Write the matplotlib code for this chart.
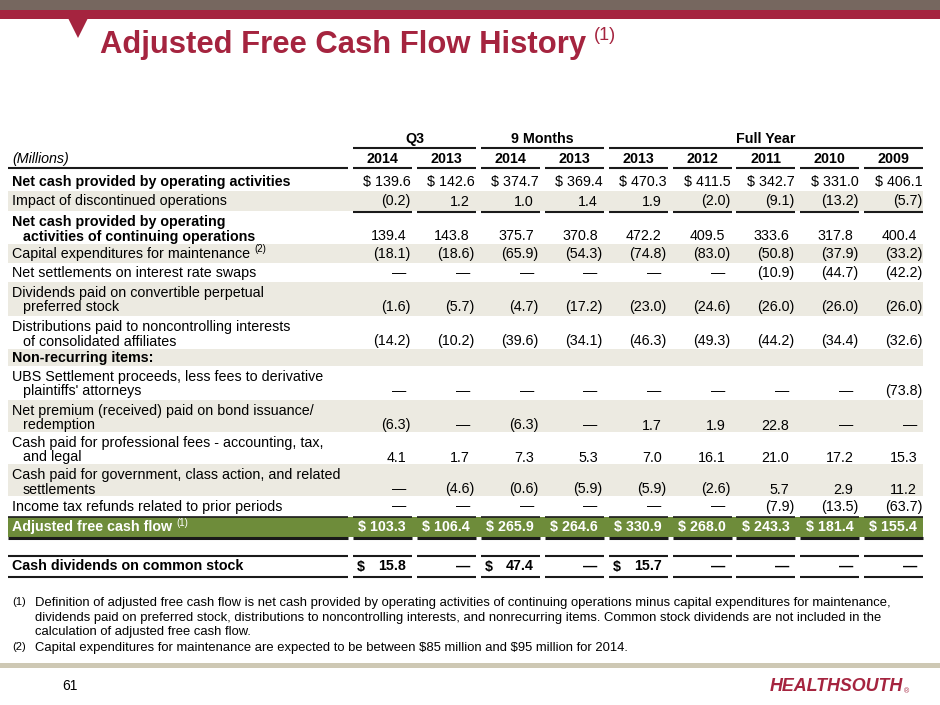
import matplotlib.pyplot as plt
from matplotlib import font_manager
from matplotlib.font_manager import FontProperties
from matplotlib.patches import Rectangle, Polygon

# ---- table data ----
group_labels = ['Q3', '9 Months', 'Full Year']
group_spans = [2, 2, 5]
years = ['2014', '2013', '2014', '2013', '2013', '2012', '2011', '2010', '2009']

D = '\u2014'
row_labels = [
    'Net cash provided by operating activities',
    'Impact of discontinued operations',
    'Net cash provided by operating\nactivities of continuing operations',
    'Capital expenditures for maintenance',
    'Net settlements on interest rate swaps',
    'Dividends paid on convertible perpetual\npreferred stock',
    'Distributions paid to noncontrolling interests\nof consolidated affiliates',
    'Non-recurring items:',
    "UBS Settlement proceeds, less fees to derivative\nplaintiffs' attorneys",
    'Net premium (received) paid on bond issuance/\nredemption',
    'Cash paid for professional fees - accounting, tax,\nand legal',
    'Cash paid for government, class action, and related\nsettlements',
    'Income tax refunds related to prior periods',
    'Adjusted free cash flow',
    'Cash dividends on common stock',
]
row_notes = ['', '', '', '(2)', '', '', '', '', '', '', '', '', '', '(1)', '']
row_values = [
    ['$ 139.6', '$ 142.6', '$ 374.7', '$ 369.4', '$ 470.3', '$ 411.5', '$ 342.7', '$ 331.0', '$ 406.1'],
    ['(0.2)', '1.2', '1.0', '1.4', '1.9', '(2.0)', '(9.1)', '(13.2)', '(5.7)'],
    ['139.4', '143.8', '375.7', '370.8', '472.2', '409.5', '333.6', '317.8', '400.4'],
    ['(18.1)', '(18.6)', '(65.9)', '(54.3)', '(74.8)', '(83.0)', '(50.8)', '(37.9)', '(33.2)'],
    [D, D, D, D, D, D, '(10.9)', '(44.7)', '(42.2)'],
    ['(1.6)', '(5.7)', '(4.7)', '(17.2)', '(23.0)', '(24.6)', '(26.0)', '(26.0)', '(26.0)'],
    ['(14.2)', '(10.2)', '(39.6)', '(34.1)', '(46.3)', '(49.3)', '(44.2)', '(34.4)', '(32.6)'],
    ['', '', '', '', '', '', '', '', ''],
    [D, D, D, D, D, D, D, D, '(73.8)'],
    ['(6.3)', D, '(6.3)', D, '1.7', '1.9', '22.8', D, D],
    ['4.1', '1.7', '7.3', '5.3', '7.0', '16.1', '21.0', '17.2', '15.3'],
    [D, '(4.6)', '(0.6)', '(5.9)', '(5.9)', '(2.6)', '5.7', '2.9', '11.2'],
    [D, D, D, D, D, D, '(7.9)', '(13.5)', '(63.7)'],
    ['$ 103.3', '$ 106.4', '$ 265.9', '$ 264.6', '$ 330.9', '$ 268.0', '$ 243.3', '$ 181.4', '$ 155.4'],
    ['$ 15.8', D, '$ 47.4', D, '$ 15.7', D, D, D, D],
]
footnotes = [
    ('(1)', ['Definition of adjusted free cash flow is net cash provided by operating activities of continuing operations minus capital expenditures for maintenance,',
             'dividends paid on preferred stock, distributions to noncontrolling interests, and nonrecurring items. Common stock dividends are not included in the',
             'calculation of adjusted free cash flow.']),
    ('(2)', ['Capital expenditures for maintenance are expected to be between $85 million and $95 million for 2014.']),
]
title = 'Adjusted Free Cash Flow History'
page_no = '61'
logo = 'HEALTHSOUTH'

# ---- layout / style ----
W, H = 940, 705
RED = '#A5243F'
TAUPE = '#76675F'
GREEN = '#6E8C3A'
SHADE = '#ECEAE1'
BEIGE = '#CEC8B4'
LINE = '#1a1a1a'

names = {f.name for f in font_manager.fontManager.ttflist}
BODY = 'Liberation Sans' if 'Liberation Sans' in names else 'DejaVu Sans'
FS = 10.3
FP = FontProperties(family=BODY)
FP_B = FontProperties(family=BODY, weight='bold')
FP_BI = FontProperties(family=BODY, weight='bold', style='italic')

row_tops = [172, 191, 211, 244, 263, 282, 316, 349, 366, 400, 432, 464, 496, 517, 556]
row_bots = [191, 211, 244, 263, 282, 316, 349, 366, 400, 432, 464, 496, 516, 537, 576]
shaded = {1, 3, 5, 7, 9, 11}
bold_rows = {0, 2, 7, 13, 14}
bold_vals = {13, 14}
col_left = [353 + 63.9 * i for i in range(9)]
col_w = 59
col_right = [c + col_w for c in col_left]
lab_left, lab_right = 8, 348

fig = plt.figure(figsize=(9.4, 7.05), dpi=100)
ax = fig.add_axes([0, 0, 1, 1])
ax.set_xlim(0, W)
ax.set_ylim(H, 0)
ax.axis('off')
renderer = fig.canvas.get_renderer()


def hline(x0, x1, y, lw=1.5, color=LINE):
    ax.plot([x0, x1], [y, y], color=color, lw=lw, solid_capstyle='butt')


def right_edge(t):
    return t.get_window_extent(renderer=renderer).x1


def fit_text(x, y, s, fp, width, size, **kw):
    # size the text so that it spans the same width as in the slide
    t = ax.text(x, y, s, fontproperties=fp, fontsize=size, parse_math=False, **kw)
    w = t.get_window_extent(renderer=renderer).width
    t.set_fontsize(size * width / w)
    return t


# header bands
ax.add_patch(Rectangle((0, 0), W, 10, color=TAUPE, lw=0))
ax.add_patch(Rectangle((0, 10), W, 8.5, color=RED, lw=0))
ax.add_patch(Polygon([[68, 18], [88, 18], [78, 38]], closed=True, color=RED, lw=0))
fit_text(100, 53, title, FP_B, 485, 23, color=RED, va='baseline')
ax.text(594, 40, '(1)', fontproperties=FP, fontsize=13, color=RED, va='baseline')

# group headers
start = 0
for lab, span in zip(group_labels, group_spans):
    x0, x1 = col_left[start], col_right[start + span - 1]
    ax.text((x0 + x1) / 2, 143, lab, fontsize=FS, fontweight='bold', family=BODY, ha='center', va='baseline')
    hline(x0, x1, 148)
    start += span

# year row
ax.text(12, 163, '(Millions)', fontsize=FS, style='italic', family=BODY, va='baseline')
hline(lab_left, lab_right, 168)
for i, yr in enumerate(years):
    ax.text((col_left[i] + col_right[i]) / 2, 163, yr, fontsize=FS, fontweight='bold', family=BODY,
            ha='center', va='baseline')
    hline(col_left[i], col_right[i], 168)

# row backgrounds
for r in range(len(row_labels)):
    if r in shaded:
        ax.add_patch(Rectangle((lab_left, row_tops[r]), col_right[-1] - lab_left, row_bots[r] - row_tops[r],
                               color=SHADE, lw=0))
ax.add_patch(Rectangle((lab_left, row_tops[13]), col_right[-1] - lab_left, row_bots[13] - row_tops[13],
                       color=GREEN, lw=0))

# rows
for r, (label, vals) in enumerate(zip(row_labels, row_values)):
    weight = 'bold' if r in bold_rows else 'normal'
    vweight = 'bold' if r in bold_vals else 'normal'
    color = 'white' if r == 13 else 'black'
    lines = label.split('\n')
    if len(lines) == 1:
        ys = [(row_tops[r] + row_bots[r]) / 2 + 4.5]
    else:
        ys = [row_tops[r] + 15, row_tops[r] + 29.5]
    for k, (ln, y) in enumerate(zip(lines, ys)):
        t = ax.text(12 if k == 0 else 23, y, ln, fontsize=FS, fontweight=weight, family=BODY,
                    color=color, va='baseline')
    if row_notes[r]:
        ax.text(right_edge(t) + 4, ys[-1] - 6, row_notes[r], fontsize=7, family=BODY,
                color=color, va='baseline')
    yv = ys[-1]
    for i, v in enumerate(vals):
        if not v:
            continue
        if r == 14 and v.startswith('$'):
            ax.text(col_left[i] + 4, yv, '$', fontsize=FS, fontweight=vweight, family=BODY,
                    color=color, va='baseline', parse_math=False)
            v = v[1:].strip()
        if v.endswith(')') or r == 0:
            x = col_right[i] - 1
        else:
            x = col_right[i] - 6
        ax.text(x, yv, v, fontsize=FS, fontweight=vweight, family=BODY, color=color,
                ha='right', va='baseline', parse_math=False)

# rules inside the table
for i in range(9):
    hline(col_left[i], col_right[i], 212)
for x0, x1 in [(lab_left, lab_right)] + list(zip(col_left, col_right)):
    hline(x0, x1, 517, lw=1.2)
    hline(x0, x1, 538, lw=2.2)
    hline(x0, x1, 556)
    hline(x0, x1, 577)

# footnotes
y = 606
fsize = None
for mark, lines in footnotes:
    ax.text(12, y - 1, mark, fontproperties=FP, fontsize=8, va='baseline')
    for ln in lines:
        if fsize is None:
            t = fit_text(35, y, ln, FP, 855, 10, va='baseline')
            fsize = t.get_fontsize()
        else:
            ax.text(35, y, ln, fontproperties=FP, fontsize=fsize, va='baseline', parse_math=False)
        y += 14.5
    y += 1.5

# footer
ax.add_patch(Rectangle((0, 663), W, 5, color=BEIGE, lw=0))
ax.text(62, 690, page_no, fontproperties=FP, fontsize=10, va='baseline')
t = fit_text(770, 691, logo, FP_BI, 134, 14, color=RED, va='baseline')
ax.text(right_edge(t) + 1, 693, '\u00ae', fontsize=5, family=BODY, color=RED, va='baseline')

fig.savefig('out.png', dpi=100)
